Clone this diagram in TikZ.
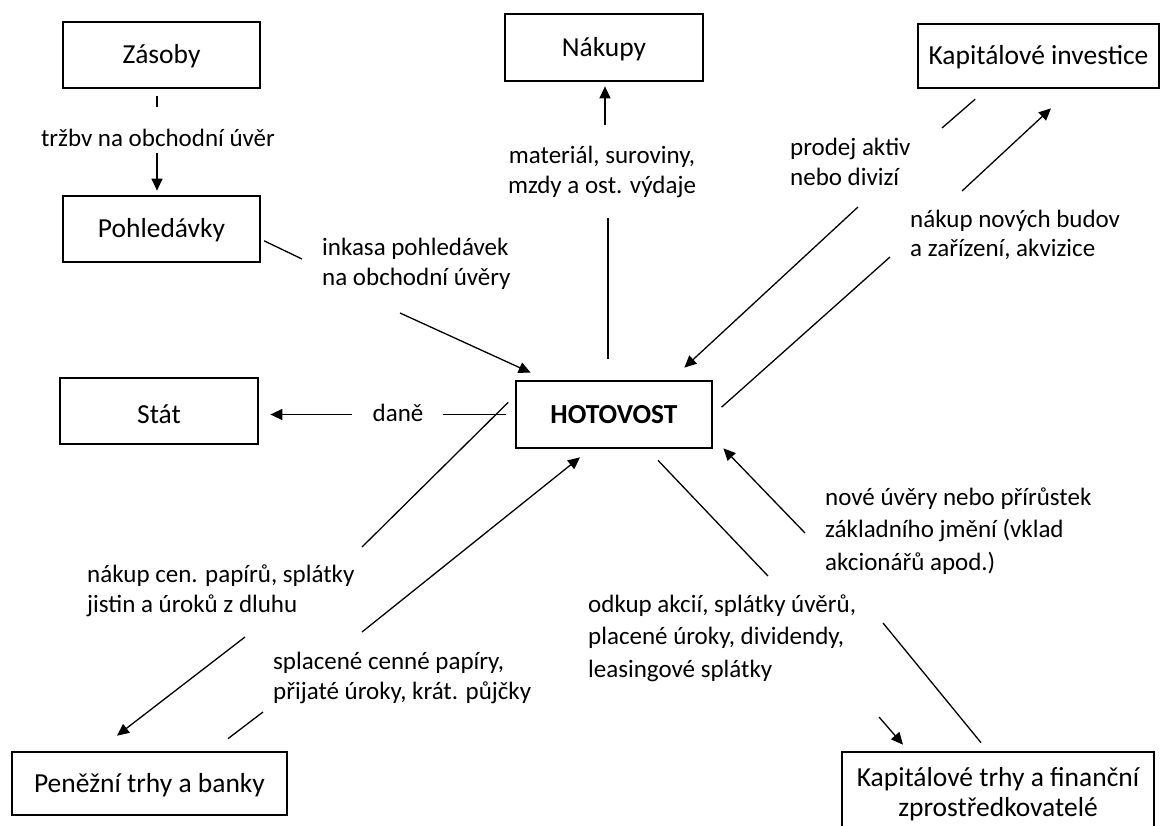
\documentclass[tikz,border=0pt]{standalone}
\usepackage{fontspec}
\setmainfont{Carlito}
\usetikzlibrary{arrows.meta}
\begin{document}
\begin{tikzpicture}[x=1pt,y=-1pt,line cap=butt,line join=miter,>={Triangle[length=12pt,width=11pt]},font=\fontsize{25}{29.5}\selectfont]
	\tikzset{box/.style={draw,line width=2.7pt,inner sep=0pt,align=center,font=\fontsize{27.5}{32}\selectfont,text height=20pt,text depth=2.4pt},
		flow/.style={line width=1.3pt},
		lbl/.style={inner sep=0pt,align=left,anchor=west}
	}
	\useasboundingbox (0,0) rectangle (1165,825);
	\clip (0,0) rectangle (1165,825);
	% boxes
	\node[box,minimum width=197pt,minimum height=66pt] (zas) at (161.5,55) {Zásoby};
	\node[box,minimum width=197pt,minimum height=66pt] (pohl) at (161.5,229) {Pohledávky};
	\node[box,minimum width=198pt,minimum height=67pt] (nak) at (604,47.5) {Nákupy};
	\node[box,minimum width=241pt,minimum height=64pt] (ki) at (1038.5,56) {Kapitálové investice};
	\node[box,minimum width=198pt,minimum height=66pt,text height=27pt,text depth=2.4pt] (stat) at (159,411) {Stát};
	\node[box,minimum width=196pt,minimum height=67pt,font=\fontsize{27.5}{32}\selectfont\bfseries] (hot) at (614,414.5) {HOTOVOST};
	\node[box,minimum width=275pt,minimum height=63pt] (pb) at (149.5,783.5) {Peněžní trhy a banky};
	\node[box,minimum width=312pt,minimum height=96pt,text height=,text depth=] (kt) at (998,800) {};
	\node[align=center,inner sep=0pt,font=\fontsize{27.5}{30}\selectfont] (ktt) at (998,794) {Kapitálové trhy a finanční\\zprostředkovatelé};
	% labels
	\node[lbl,anchor=center] (ltrz) at (158,138) {tržbv na obchodní úvěr};
	\node[lbl] (link) at (322,264) {inkasa pohledávek\\na obchodní úvěry};
	\node[lbl,anchor=center,align=center] (lmat) at (602,172) {materiál, suroviny,\\mzdy a ost. výdaje};
	\node[lbl] (lpro) at (790,162) {prodej aktiv\\nebo divizí};
	\node[lbl] (lnak) at (910,235) {nákup nových budov\\a zařízení, akvizice};
	\node[lbl,anchor=center] (ldan) at (398,413) {daně};
	\node[lbl] (lcen) at (87,591) {nákup cen. papírů, splátky\\jistin a úroků z dluhu};
	\node[lbl] (lspl) at (273,678) {splacené cenné papíry,\\přijaté úroky, krát. půjčky};
	\node[lbl] (lodk) at (588,638) {odkup akcií, splátky úvěrů,\\[3pt]placené úroky, dividendy,\\[3pt]leasingové splátky};
	\node[lbl] (lnov) at (825,531) {nové úvěry nebo přírůstek\\[3pt]základního jmění (vklad\\[3pt]akcionářů apod.)};
	% ends of the broken connectors
	\coordinate (zs1) at (157,107); \coordinate (zs2) at (157,153);
	\coordinate (ik1) at (302,259); \coordinate (ik2) at (400,313);
	\coordinate (nk1) at (608,218); \coordinate (nk2) at (605,125);
	\coordinate (dn1) at (443,414.5); \coordinate (dn2) at (352,414.5);
	\coordinate (pa1) at (942,128); \coordinate (pa2) at (858,207);
	\coordinate (nn1) at (890,257); \coordinate (nn2) at (962,191);
	\coordinate (nc1) at (362,547); \coordinate (nc2) at (245,637);
	\coordinate (sp1) at (263,712); \coordinate (sp2) at (362,632);
	\coordinate (ok1) at (768,576); \coordinate (ok2) at (879,717);
	\coordinate (nu1) at (883,623); \coordinate (nu2) at (805,533);
	% connectors
	\draw[flow,shorten <=7pt] (zas.south -| zs1) -- (zs1);
	\draw[flow,->,shorten >=4pt] (zs2) -- (pohl.north -| zs2);
	\draw[flow,shorten <=3pt] (pohl.-6) -- (ik1);
	\draw[flow,->] (ik2) -- ([shift={(16,-7)}]hot.north west);
	\draw[flow,shorten <=21pt] (hot.north -| nk1) -- (nk1);
	\draw[flow,->,shorten >=4pt] (nk2) -- (nak.south -| nk2);
	\draw[flow,shorten <=9pt] (hot.west) -- (dn1);
	\draw[flow,->,shorten >=11pt] (dn2) -- (stat.east |- dn2);
	\draw[flow,shorten <=15pt] ([xshift=-52]ki.south) -- (pa1);
	\draw[flow,->] (pa2) -- ([shift={(-29,-12)}]hot.north east);
	\draw[flow,shorten <=11pt] (hot.east) -- (nn1);
	\draw[flow,->] (nn2) -- ([shift={(12.5,19)}]ki.south);
	\draw[flow,shorten <=9pt] ([yshift=18.5]hot.west) -- (nc1);
	\draw[flow,->] (nc2) -- ([shift={(-32.5,-15)}]pb.north);
	\draw[flow] ([shift={(78.5,-12)}]pb.north) -- (sp1);
	\draw[flow,->] (sp2) -- ([shift={(-34,8)}]hot.south);
	\draw[flow] ([shift={(44,11)}]hot.south) -- (ok1);
	\draw[flow,->] (ok2) -- ([shift={(-95,-6)}]kt.north);
	\draw[flow] ([shift={(-17,-8)}]kt.north) -- (nu1);
	\draw[flow,->] (nu2) -- ([shift={(10,-1)}]hot.south east);
\end{tikzpicture}
\end{document}
